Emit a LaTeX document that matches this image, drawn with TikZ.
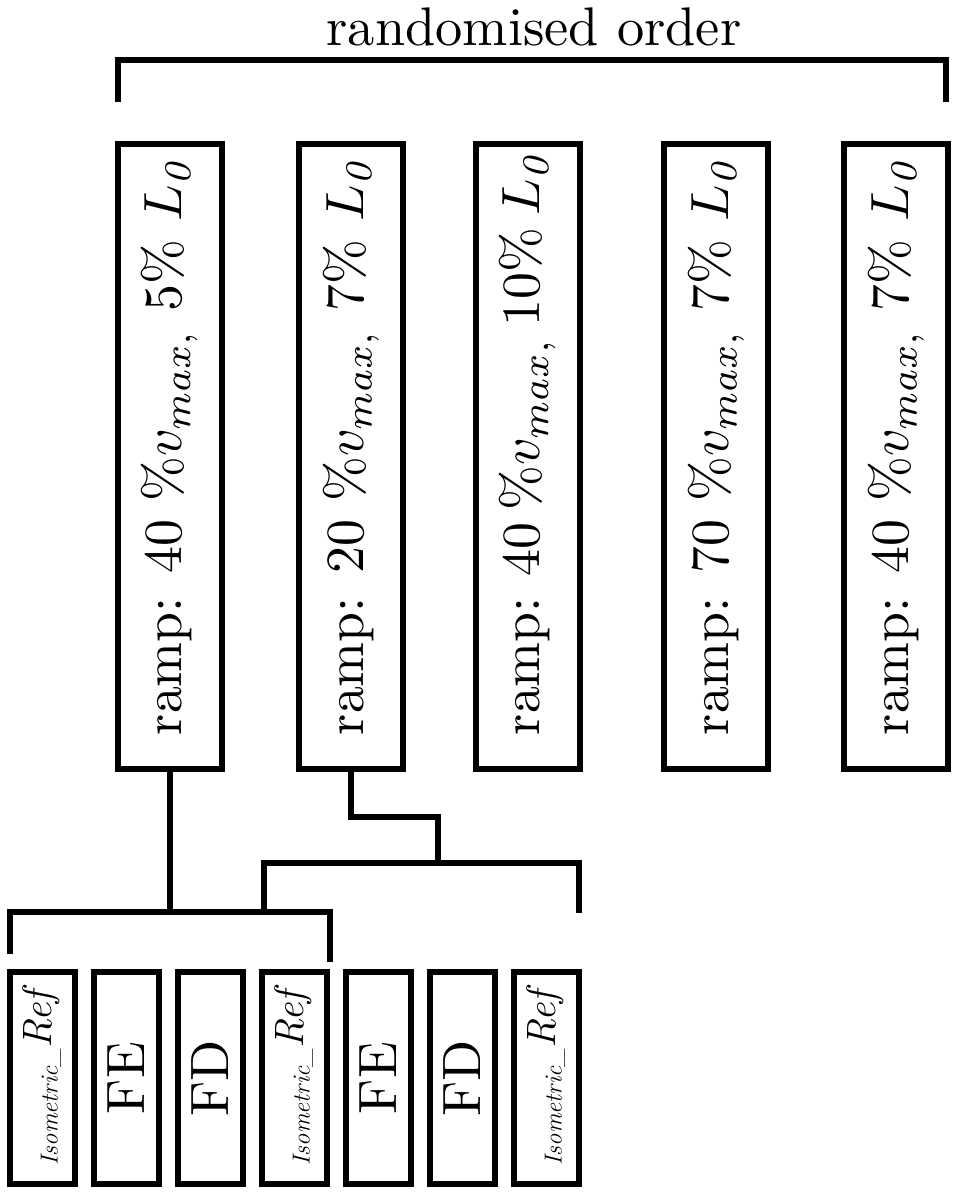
\documentclass[tikz,border=0pt]{standalone}
\usepackage{graphicx}
\begin{document}
\begin{tikzpicture}[x=0.5pt,y=-0.5pt,
  topbox/.style={draw,line width=3pt,inner sep=0pt,minimum width=52pt,minimum height=312.5pt},
  botbox/.style={draw,line width=3pt,inner sep=0pt,minimum width=32.5pt,minimum height=106pt},
  conn/.style={line width=3pt}]
\useasboundingbox (0,0) rectangle (957,1194);
\newcommand{\isoref}{\rotatebox{90}{\raisebox{-3pt}{\fontsize{12.3}{12}\selectfont\itshape Isometric\_}{\fontsize{20.5}{20}\selectfont\itshape Ref}}}
\newcommand{\ramptext}[3]{\rotatebox{90}{\makebox[278.5pt][l]{\scalebox{2.69}{\makebox[#3][s]{ramp: #1 \%$v_{max,}$ #2\% $L_{\mathit{0}}$}}}}}
\newcommand{\bigword}[1]{\rotatebox{90}{\scalebox{2.7}{#1}}}
\node[anchor=base] (title) at (534,45) {\scalebox{2.72}{randomised order}};
\node[topbox] (b1) at (169.5,456.5) {\ramptext{40}{5}{\width}};
\node[topbox] (b2) at (351,456.5) {\ramptext{20}{7}{\width}};
\node[topbox] (b3) at (527.5,456.5) {\ramptext{40}{10}{108.7pt}};
\node[topbox] (b4) at (716,456.5) {\ramptext{70}{7}{\width}};
\node[topbox] (b5) at (896,456.5) {\ramptext{40}{7}{\width}};
\node[botbox] (s1) at (42,1078) {\isoref};
\node[botbox] (s2) at (126,1078) {\bigword{FE}};
\node[botbox] (s3) at (210,1078) {\bigword{FD}};
\node[botbox] (s4) at (294,1078) {\isoref};
\node[botbox] (s5) at (378,1078) {\bigword{FE}};
\node[botbox] (s6) at (462,1078) {\bigword{FD}};
\node[botbox] (s7) at (546,1078) {\isoref};
% top bracket
\coordinate (t1) at (117.5,102);
\coordinate (t2) at (117.5,60);
\coordinate (t3) at (946,60);
\coordinate (t4) at (946,102);
\draw[conn] (t1) -- (t2) -- (t3) -- (t4);
% lower bar
\coordinate (l1) at (10,954);
\coordinate (l2) at (10,912);
\coordinate (l3) at (330,912);
\coordinate (l4) at (330,962);
\draw[conn] (l1) -- (l2) -- (l3) -- (l4);
\draw[conn] (b1.south) -- (b1.south |- l2);
% upper bar
\coordinate (u1) at (264,912);
\coordinate (u2) at (264,863);
\coordinate (u3) at (579,863);
\coordinate (u4) at (579,913);
\draw[conn] (u1) -- (u2) -- (u3) -- (u4);
\coordinate (k1) at (438,817);
\coordinate (k2) at (438,863);
\draw[conn] (b2.south) |- (k1) -- (k2);
\end{tikzpicture}
\end{document}
